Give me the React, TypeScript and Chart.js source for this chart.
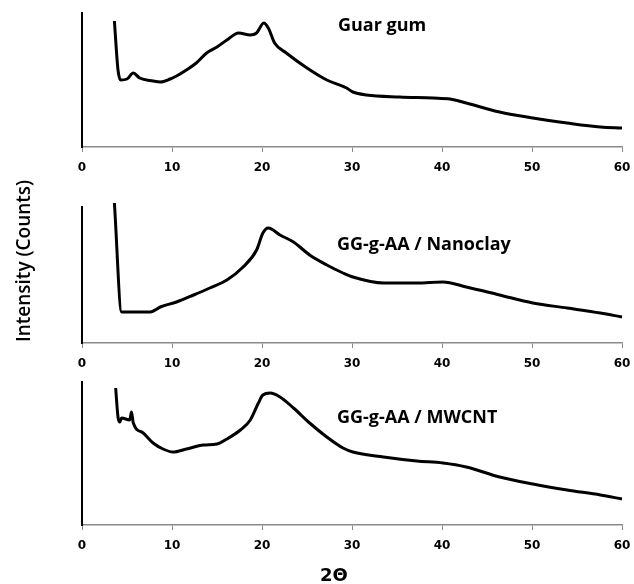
import React, { useEffect, useRef } from 'react';
import { Chart, registerables } from 'chart.js';

Chart.register(...registerables);

// ---- data (2θ in degrees, intensity in arbitrary counts) ----
const xMin = 0;
const xMax = 60;
const xStep = 10;

const guarX = [3.6, 4.0, 4.3, 5.0, 5.7, 6.4, 7.9, 8.7, 9.8, 10.5, 11.6, 12.7, 13.85, 15.0, 16.1, 17.4, 18.7, 19.4, 20.2, 20.7, 21.4, 22.7, 25.0, 27.2, 29.4, 30.1, 31.6, 35.3, 39.0, 40.9, 42.7, 46.4, 50.1, 53.9, 57.6, 60.0];
const guarY = [126, 77, 67, 68, 74, 69, 66, 65, 68, 71, 77, 84, 94, 100, 107, 114, 112, 114, 124, 119, 104, 94, 79, 67, 59, 55, 52, 50, 49, 48, 44, 35, 29, 24, 20, 19];

const clayX = [3.6, 4.4, 5.0, 7.6, 8.7, 10.5, 12.4, 14.2, 16.1, 17.9, 19.4, 20.1, 20.7, 22.0, 23.5, 25.3, 27.2, 29.0, 30.1, 33.5, 37.2, 40.1, 42.7, 46.4, 50.1, 53.9, 57.6, 60.0];
const clayY = [140, 31, 31, 31, 36, 41, 48, 55, 63, 76, 93, 110, 115, 108, 101, 88, 78, 70, 66, 60, 60, 61, 56, 48, 40, 35, 30, 26];

const cntX = [3.74, 4.0, 4.2, 4.4, 5.3, 5.5, 5.7, 6.8, 7.9, 9.0, 10.1, 11.6, 13.5, 15.0, 16.1, 17.6, 18.7, 19.6, 20.1, 20.9, 22.0, 23.5, 25.3, 27.2, 29.0, 30.1, 33.5, 37.2, 40.1, 42.7, 46.4, 50.1, 53.9, 57.6, 60.0];
const cntY = [137, 108, 103, 107, 105, 113, 102, 92, 82, 76, 73, 76, 80, 81, 86, 95, 105, 122, 130, 132, 128, 117, 102, 88, 77, 73, 68, 64, 62, 58, 48, 41, 35, 30, 26];

const panelTitles = ['Guar gum', 'GG-g-AA / Nanoclay', 'GG-g-AA / MWCNT'];
const yAxisTitle = 'Intensity (Counts)';
const xAxisTitle = '2\u0398';

// ---- drawing helpers ----
const textPlugin = {
  id: 'panelTexts',
  afterDraw(chart: any, _args: any, opts: any) {
    const ctx = chart.ctx;
    for (const t of (opts && opts.items) || []) {
      ctx.save();
      ctx.font = t.font;
      ctx.fillStyle = '#000';
      ctx.textAlign = t.align || 'left';
      ctx.textBaseline = 'middle';
      ctx.translate(t.x, t.y);
      if (t.rotate) ctx.rotate(t.rotate);
      ctx.fillText(t.text, 0, 0);
      ctx.restore();
    }
  },
};

type PanelProps = {
  xs: number[];
  ys: number[];
  top: number;
  height: number;
  padTop: number;
  xAxisHeight: number;
  yMax: number;
  texts: any[];
};

function Panel({ xs, ys, top, height, padTop, xAxisHeight, yMax, texts }: PanelProps) {
  const ref = useRef<HTMLCanvasElement | null>(null);
  useEffect(() => {
    if (!ref.current) return;
    const chart = new Chart(ref.current, {
      type: 'line',
      data: {
        datasets: [
          {
            data: xs.map((x, i) => ({ x, y: ys[i] })),
            borderColor: '#000',
            borderWidth: 3,
            pointRadius: 0,
            cubicInterpolationMode: 'monotone',
            fill: false,
            clip: false as any,
          },
        ],
      },
      options: {
        responsive: false,
        animation: false,
        layout: { padding: { top: padTop, right: 12, left: 0, bottom: 0 } },
        plugins: {
          legend: { display: false },
          tooltip: { enabled: false },
          panelTexts: { items: texts },
        } as any,
        scales: {
          x: {
            type: 'linear',
            min: xMin,
            max: xMax,
            ticks: {
              stepSize: xStep,
              color: '#000',
              padding: 9,
              maxRotation: 0,
              font: { family: 'DejaVu Sans', weight: 'bold', size: 12 },
            },
            grid: {
              display: true,
              drawOnChartArea: false,
              drawTicks: true,
              tickLength: 5,
              color: '#8a8a8a',
              lineWidth: 1,
            },
            border: { display: true, color: '#8a8a8a', width: 1.5 },
            afterFit: (s: any) => {
              s.height = xAxisHeight;
              s.paddingLeft = 0;
              s.paddingRight = 0;
            },
          },
          y: {
            min: 0,
            max: yMax,
            ticks: { display: false },
            grid: { display: false, drawTicks: false },
            border: { display: true, color: '#000', width: 2 },
            afterFit: (s: any) => {
              s.width = 82;
              s.paddingTop = 0;
              s.paddingBottom = 0;
            },
          },
        },
      },
      plugins: [textPlugin as any],
    });
    return () => chart.destroy();
  }, []);
  return (
    <canvas
      ref={ref}
      width={634}
      height={height}
      style={{ position: 'absolute', left: 0, top, width: 634, height }}
    />
  );
}

export default function App() {
  const labelFont = "bold 18px 'Open Sans'";
  return (
    <div style={{ position: 'absolute', left: 0, top: 0, width: 634, height: 584, background: '#fff' }}>
      <Panel
        xs={guarX}
        ys={guarY}
        top={0}
        height={180}
        padTop={13}
        xAxisHeight={33}
        yMax={134}
        texts={[{ text: panelTitles[0], x: 338, y: 26, font: labelFont }]}
      />
      <Panel
        xs={clayX}
        ys={clayY}
        top={180}
        height={190}
        padTop={27}
        xAxisHeight={27}
        yMax={136}
        texts={[
          { text: panelTitles[1], x: 337, y: 65, font: labelFont },
          { text: yAxisTitle, x: 25, y: 81, font: "600 19px 'Open Sans'", align: 'center', rotate: -Math.PI / 2 },
        ]}
      />
      <Panel
        xs={cntX}
        ys={cntY}
        top={370}
        height={214}
        padTop={12}
        xAxisHeight={59}
        yMax={143}
        texts={[
          { text: panelTitles[2], x: 337, y: 48, font: labelFont },
          { text: xAxisTitle, x: 334, y: 206, font: "bold 18px 'DejaVu Sans'", align: 'center' },
        ]}
      />
    </div>
  );
}
